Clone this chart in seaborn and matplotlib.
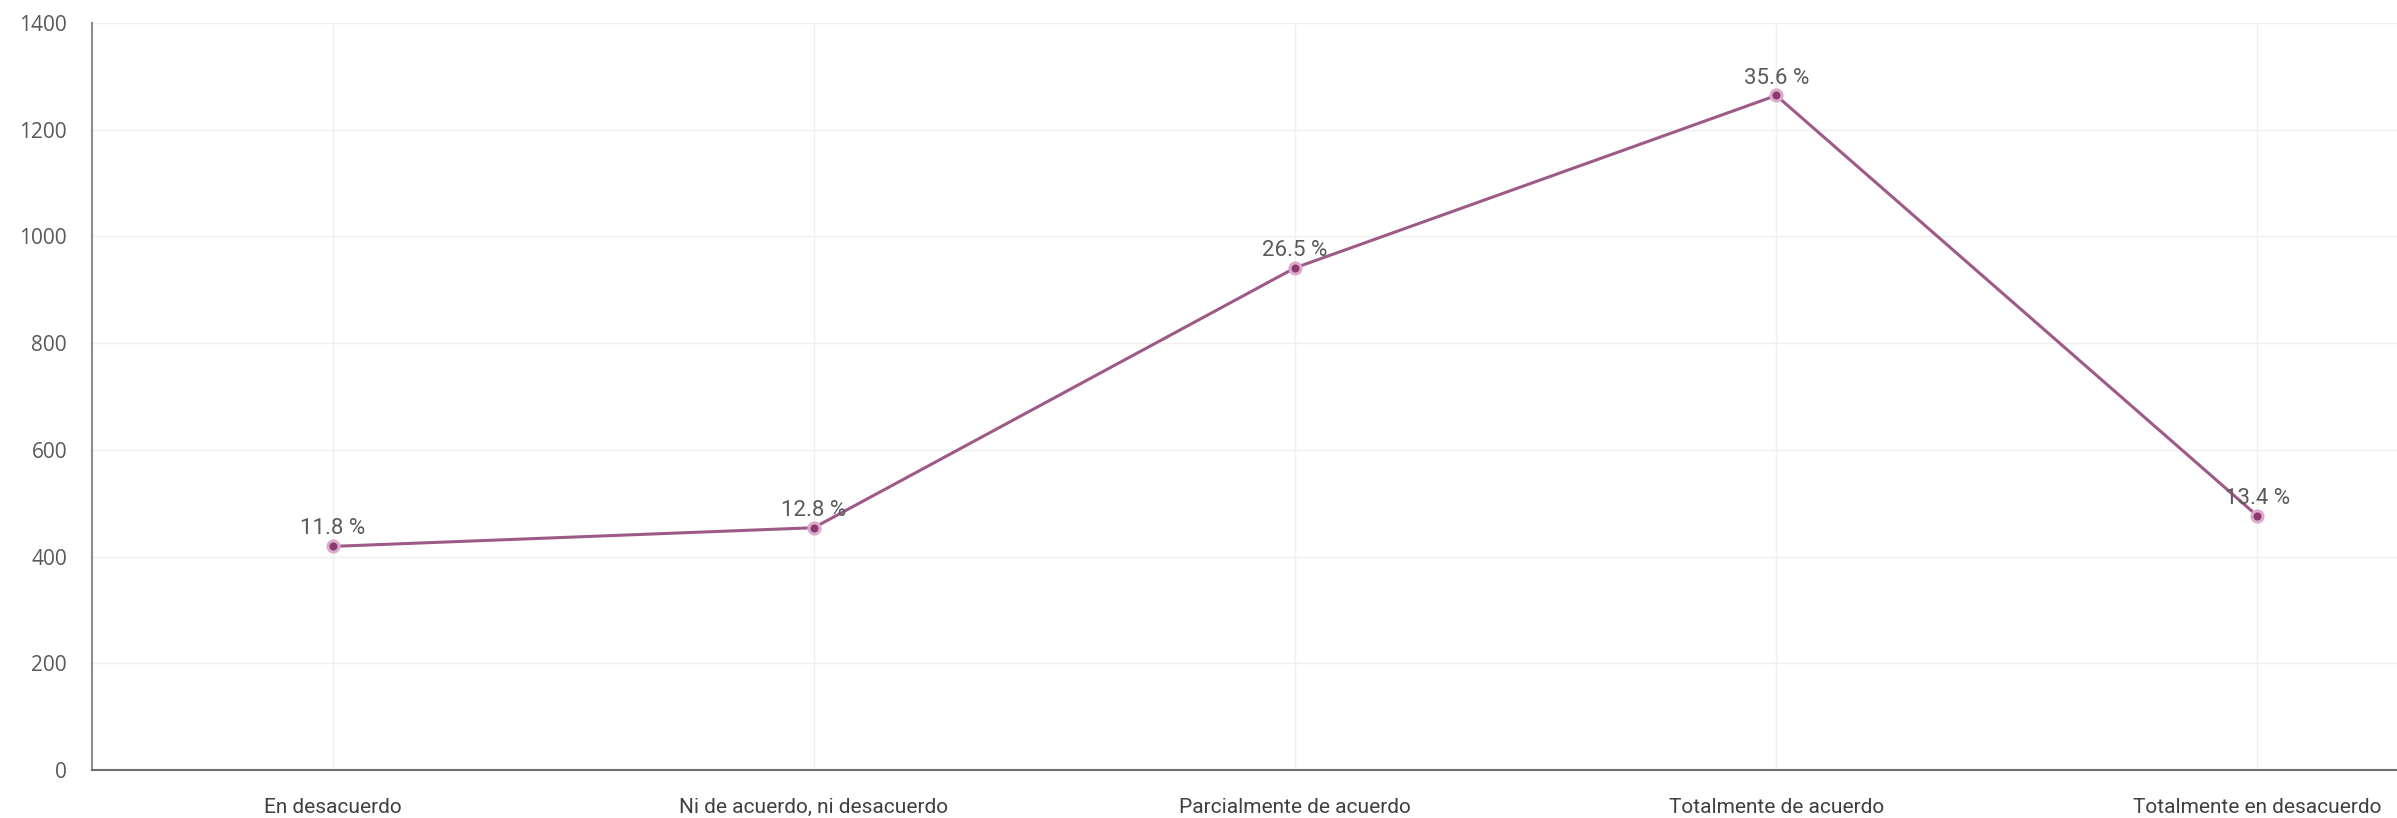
import matplotlib
matplotlib.use("Agg")
import matplotlib.pyplot as plt
import seaborn as sns
import pandas as pd

categories = ["En desacuerdo", "Ni de acuerdo, ni desacuerdo", "Parcialmente de acuerdo",
              "Totalmente de acuerdo", "Totalmente en desacuerdo"]
values = [419, 454, 941, 1264, 476]
pct_labels = ["11.8 %", "12.8 %", "26.5 %", "35.6 %", "13.4 %"]
y_ticks = [0, 200, 400, 600, 800, 1000, 1200, 1400]

sns.set_theme(style="white")
plt.rcParams['font.family'] = ['Roboto', 'DejaVu Sans']

df = pd.DataFrame({"cat": categories, "val": values})

fig = plt.figure(figsize=(23.97, 8.18), dpi=100)
ax = fig.add_axes([0.0384, 0.0587, 0.9616, 0.9133])

line_color = "#9e5a87"
sns.lineplot(data=df, x="cat", y="val", ax=ax, color=line_color, linewidth=2.2,
             marker="o", markersize=8, markerfacecolor="#8a3a6e",
             markeredgecolor="#dcaacb", markeredgewidth=2.2, sort=False)

for i, (v, t) in enumerate(zip(values, pct_labels)):
    ax.annotate(t, (i, v), xytext=(0, 5), textcoords="offset points",
                ha="center", va="bottom", fontsize=16, color="#5a5a5a")

ax.set_xlim(-0.5, 4.29)
ax.set_ylim(0, 1400)
ax.set_yticks(y_ticks)
ax.set_yticklabels([str(t) for t in y_ticks], family=['Open Sans', 'DejaVu Sans'])
ax.set_xlabel("")
ax.set_ylabel("")

ax.grid(True, color="#efefef", linewidth=1.0)
ax.set_axisbelow(True)
for s in ["top", "right"]:
    ax.spines[s].set_visible(False)
ax.spines["left"].set_color("#8c8c8c")
ax.spines["left"].set_linewidth(1.5)
ax.spines["bottom"].set_color("#6e6e6e")
ax.spines["bottom"].set_linewidth(1.5)

ax.tick_params(axis="y", length=12, width=1, color="#efefef", pad=6,
               labelsize=15, labelcolor="#595959")
ax.tick_params(axis="x", length=0, pad=20, labelsize=15, labelcolor="#404040")

fig.savefig("out.png", dpi=100, facecolor="white")
